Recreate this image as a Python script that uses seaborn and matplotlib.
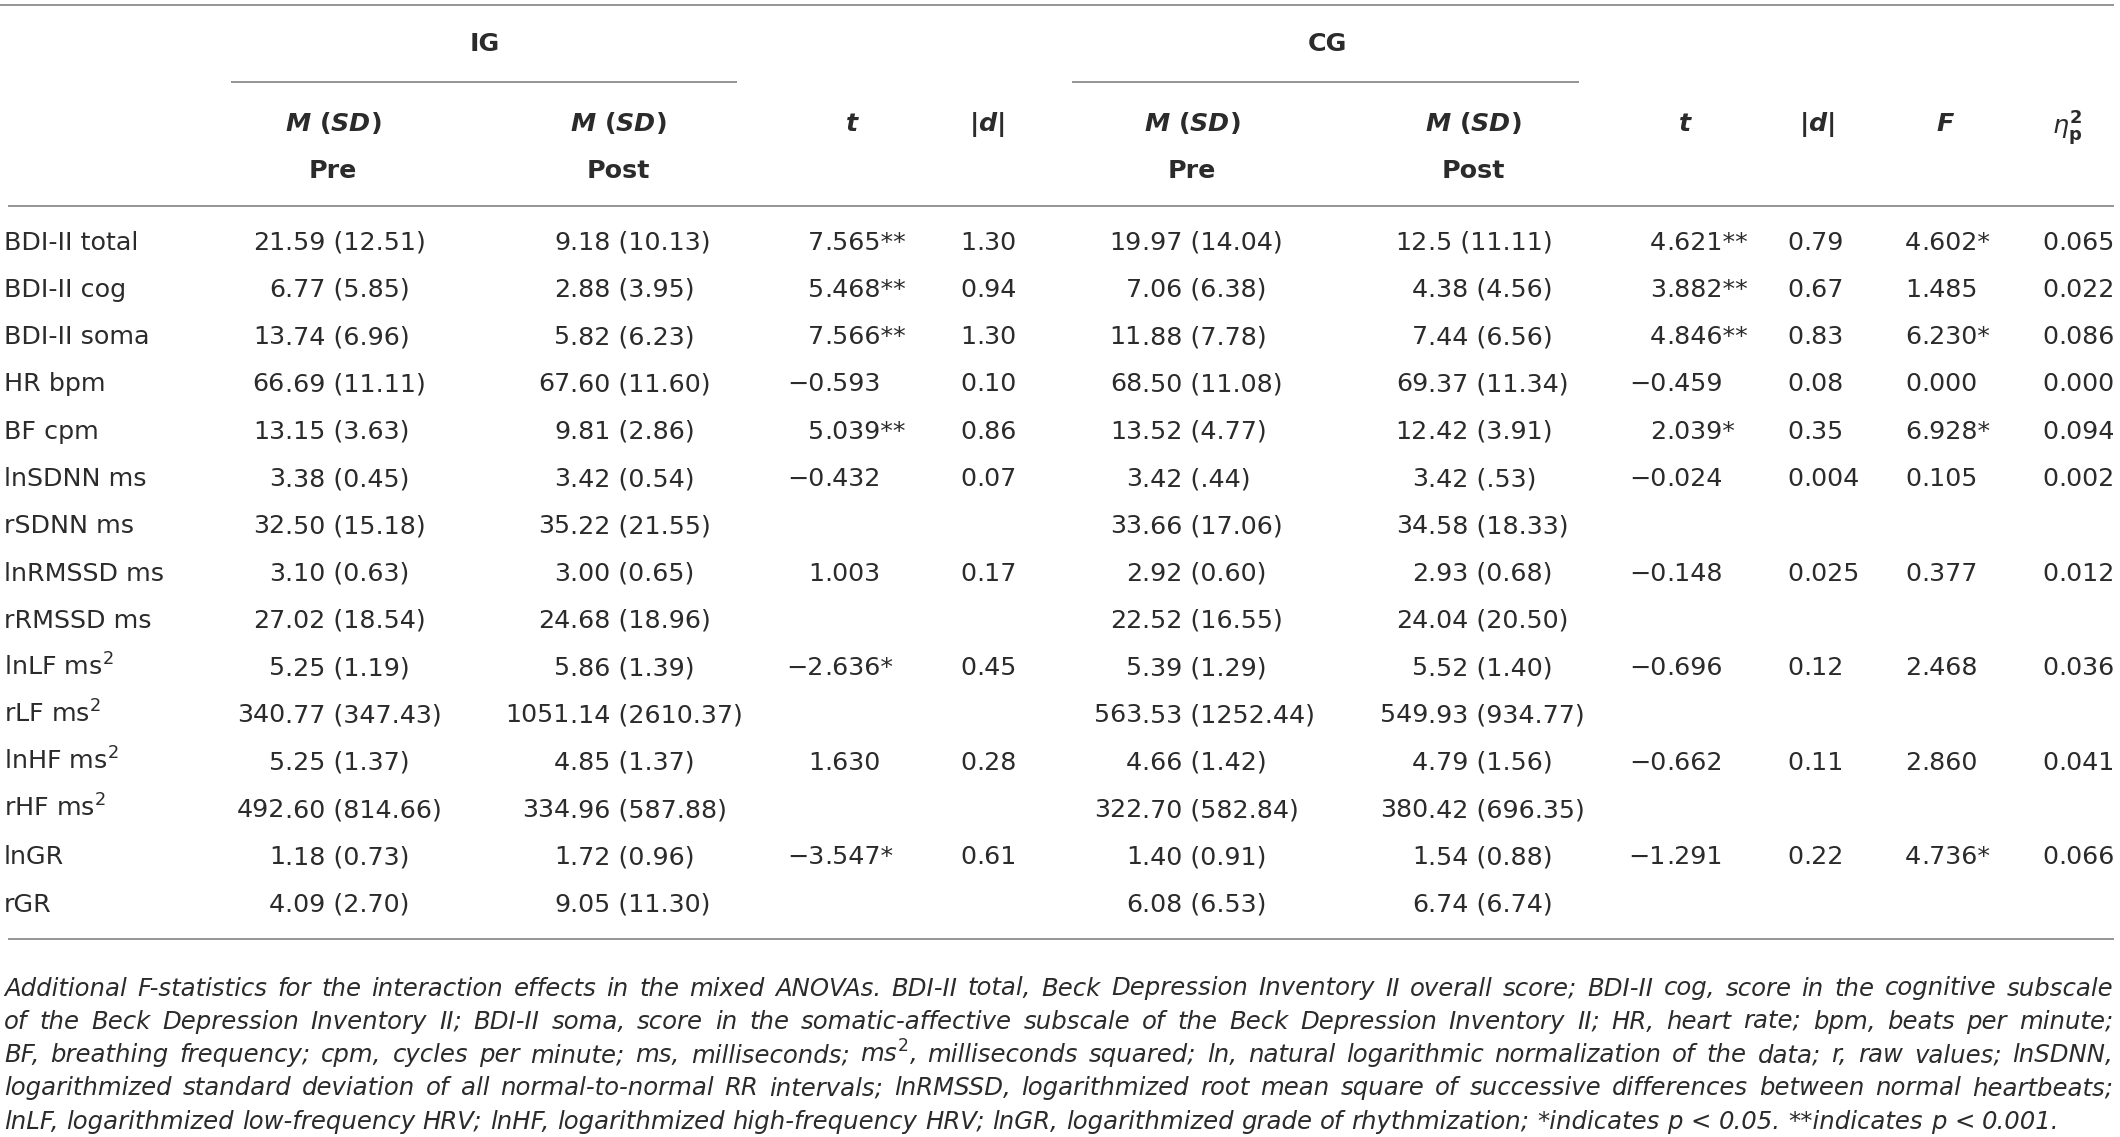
import matplotlib
matplotlib.use("Agg")
import matplotlib.pyplot as plt
import seaborn as sns

# table content
row_labels = ["BDI-II total", "BDI-II cog", "BDI-II soma", "HR bpm", "BF cpm",
              "lnSDNN ms", "rSDNN ms", "lnRMSSD ms", "rRMSSD ms", "lnLF ms$^2$",
              "rLF ms$^2$", "lnHF ms$^2$", "rHF ms$^2$", "lnGR", "rGR"]
ig_pre = ["21.59 (12.51)", "6.77 (5.85)", "13.74 (6.96)", "66.69 (11.11)", "13.15 (3.63)",
          "3.38 (0.45)", "32.50 (15.18)", "3.10 (0.63)", "27.02 (18.54)", "5.25 (1.19)",
          "340.77 (347.43)", "5.25 (1.37)", "492.60 (814.66)", "1.18 (0.73)", "4.09 (2.70)"]
ig_post = ["9.18 (10.13)", "2.88 (3.95)", "5.82 (6.23)", "67.60 (11.60)", "9.81 (2.86)",
           "3.42 (0.54)", "35.22 (21.55)", "3.00 (0.65)", "24.68 (18.96)", "5.86 (1.39)",
           "1051.14 (2610.37)", "4.85 (1.37)", "334.96 (587.88)", "1.72 (0.96)", "9.05 (11.30)"]
ig_t = ["7.565**", "5.468**", "7.566**", "\u22120.593", "5.039**", "\u22120.432", "",
        "1.003", "", "\u22122.636*", "", "1.630", "", "\u22123.547*", ""]
ig_d = ["1.30", "0.94", "1.30", "0.10", "0.86", "0.07", "", "0.17", "", "0.45", "",
        "0.28", "", "0.61", ""]
cg_pre = ["19.97 (14.04)", "7.06 (6.38)", "11.88 (7.78)", "68.50 (11.08)", "13.52 (4.77)",
          "3.42 (.44)", "33.66 (17.06)", "2.92 (0.60)", "22.52 (16.55)", "5.39 (1.29)",
          "563.53 (1252.44)", "4.66 (1.42)", "322.70 (582.84)", "1.40 (0.91)", "6.08 (6.53)"]
cg_post = ["12.5 (11.11)", "4.38 (4.56)", "7.44 (6.56)", "69.37 (11.34)", "12.42 (3.91)",
           "3.42 (.53)", "34.58 (18.33)", "2.93 (0.68)", "24.04 (20.50)", "5.52 (1.40)",
           "549.93 (934.77)", "4.79 (1.56)", "380.42 (696.35)", "1.54 (0.88)", "6.74 (6.74)"]
cg_t = ["4.621**", "3.882**", "4.846**", "\u22120.459", "2.039*", "\u22120.024", "",
        "\u22120.148", "", "\u22120.696", "", "\u22120.662", "", "\u22121.291", ""]
cg_d = ["0.79", "0.67", "0.83", "0.08", "0.35", "0.004", "", "0.025", "", "0.12", "",
        "0.11", "", "0.22", ""]
f_vals = ["4.602*", "1.485", "6.230*", "0.000", "6.928*", "0.105", "", "0.377", "",
          "2.468", "", "2.860", "", "4.736*", ""]
eta_vals = ["0.065", "0.022", "0.086", "0.000", "0.094", "0.002", "", "0.012", "",
            "0.036", "", "0.041", "", "0.066", ""]

caption_lines = [
    "Additional F-statistics for the interaction effects in the mixed ANOVAs. BDI-II total, Beck Depression Inventory II overall score; BDI-II cog, score in the cognitive subscale",
    "of the Beck Depression Inventory II; BDI-II soma, score in the somatic-affective subscale of the Beck Depression Inventory II; HR, heart rate; bpm, beats per minute;",
    r"BF, breathing frequency; cpm, cycles per minute; ms, milliseconds; $\mathit{ms}^{2}$, milliseconds squared; ln, natural logarithmic normalization of the data; r, raw values; lnSDNN,",
    "logarithmized standard deviation of all normal-to-normal RR intervals; lnRMSSD, logarithmized root mean square of successive differences between normal heartbeats;",
    "lnLF, logarithmized low-frequency HRV; lnHF, logarithmized high-frequency HRV; lnGR, logarithmized grade of rhythmization; *indicates p < 0.05. **indicates p < 0.001.",
]

# style
sns.set_theme(style="white")
plt.rcParams["font.family"] = ["DejaVu Sans"]
plt.rcParams["mathtext.fontset"] = "dejavusans"
plt.rcParams["mathtext.rm"] = "DejaVu Sans:bold"
plt.rcParams["mathtext.it"] = "DejaVu Sans:italic:bold"
plt.rcParams["mathtext.bf"] = "DejaVu Sans:bold"

TXT = "#2b2b2b"
RULE = "#8c8c8c"
FS = 18.3
W, H = 2120, 1137

fig = plt.figure(figsize=(W / 100, H / 100), dpi=100)
ax = fig.add_axes([0, 0, 1, 1])
ax.set_xlim(0, W)
ax.set_ylim(H, 0)
ax.axis("off")

# rules
ax.hlines(5, 0, 2114, color=RULE, lw=1.3)
ax.hlines(82, 231, 737, color=RULE, lw=1.3)
ax.hlines(82, 1072, 1579, color=RULE, lw=1.3)
ax.hlines(206, 8, 2114, color=RULE, lw=1.3)
ax.hlines(939, 8, 2114, color=RULE, lw=1.3)

# header
hdr = dict(ha="center", va="baseline", fontsize=FS, fontweight="bold", color=TXT,
           math_fontfamily="custom")
ax.text(485, 42 + 9, "IG", **hdr)
ax.text(1327, 42 + 9, "CG", **hdr)
for xc, lab in [(333, "Pre"), (618, "Post"), (1192, "Pre"), (1473, "Post")]:
    ax.text(xc, 122 + 9, r"$\mathit{M}$ ($\mathit{SD}$)", **hdr)
    ax.text(xc, 169 + 9, lab, **hdr)
for xc in [852, 1685]:
    ax.text(xc, 122 + 9, r"$\mathit{t}$", **hdr)
for xc in [987, 1817]:
    ax.text(xc, 122 + 9, r"|$\mathit{d}$|", **hdr)
ax.text(1946, 122 + 9, r"$\mathit{F}$", **hdr)
ax.text(2067, 126 + 9, r"$\eta^{\mathbf{2}}_{\mathbf{p}}$", ha="center", va="baseline",
        fontsize=FS, color=TXT, math_fontfamily="dejavusans")

# body, numbers aligned on the decimal point
body = dict(va="baseline", fontsize=FS, color=TXT)
columns = [ig_pre, ig_post, ig_t, ig_d, cg_pre, cg_post, cg_t, cg_d, f_vals, eta_vals]
anchors = [285, 570, 824, 976, 1142, 1428, 1666, 1803, 1921, 2058]
y0, dy = 240.5, 47.3
for i, lab in enumerate(row_labels):
    yb = y0 + i * dy + 9
    ax.text(4, yb, lab, ha="left", **body)
    for col, xa in zip(columns, anchors):
        s = col[i]
        if not s:
            continue
        k = s.index(".")
        ax.text(xa, yb, s[:k], ha="right", **body)
        ax.text(xa, yb, s[k:], ha="left", **body)

# justified italic footnote
renderer = fig.canvas.get_renderer()
CFS = 17.6
x_left, x_right = 4, 2113
for j, line in enumerate(caption_lines):
    yb = 987 + j * 33.3 + 8.5
    words = line.split(" ")
    texts = [ax.text(0, yb, w, ha="left", va="baseline", fontsize=CFS, style="italic",
                     color=TXT) for w in words]
    widths = [t.get_window_extent(renderer).width for t in texts]
    full_gap = (x_right - x_left - sum(widths)) / (len(words) - 1)
    if j < len(caption_lines) - 1:
        gap = full_gap
    else:
        gap = min(0.318 * CFS / 0.72, full_gap)
    x = x_left
    for t, w in zip(texts, widths):
        t.set_x(x)
        x += w + gap

fig.savefig("out.png", dpi=100)
